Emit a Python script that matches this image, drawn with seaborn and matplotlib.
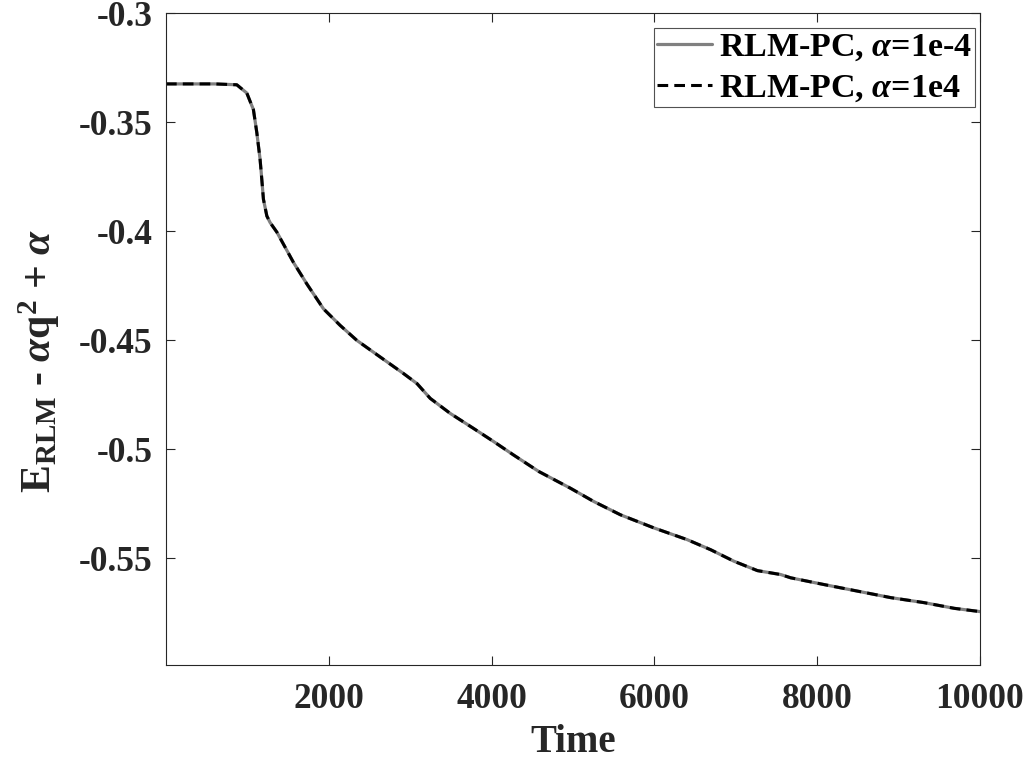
import numpy as np
import pandas as pd
import matplotlib
matplotlib.use("Agg")
import matplotlib.pyplot as plt
import seaborn as sns

# values
time = [0, 300, 600, 870, 993, 1074, 1116, 1156, 1177, 1197, 1239, 1279, 1362,
        1566, 1731, 1935, 2140, 2346, 2632, 2919, 3084, 3247, 3493, 3780, 4026,
        4272, 4579, 4969, 5256, 5584, 5994, 6404, 6691, 6978, 7266, 7552, 7675,
        8085, 8495, 8905, 9315, 9684, 10000]
energy_small = [-0.3324, -0.3324, -0.3324, -0.3328, -0.3366, -0.3442, -0.3548,
                -0.3670, -0.3762, -0.3853, -0.3930, -0.3960, -0.4004, -0.4143,
                -0.4242, -0.4356, -0.4432, -0.4501, -0.4577, -0.4653, -0.4699,
                -0.4767, -0.4836, -0.4905, -0.4965, -0.5027, -0.5102, -0.5179,
                -0.5240, -0.5301, -0.5361, -0.5415, -0.5461, -0.5514, -0.5557,
                -0.5575, -0.5590, -0.5621, -0.5651, -0.5681, -0.5704, -0.5730,
                -0.5745]
# alpha=1e4 run coincides with alpha=1e-4 run
energy_large = list(energy_small)

labels = [r"RLM-PC, $\alpha$=1e-4", r"RLM-PC, $\alpha$=1e4"]
x_ticks = [2000, 4000, 6000, 8000, 10000]
y_ticks = [-0.55, -0.5, -0.45, -0.4, -0.35, -0.3]
y_tick_labels = ["-0.55", "-0.5", "-0.45", "-0.4", "-0.35", "-0.3"]

sns.set_style("ticks")
plt.rcParams["font.family"] = ["Liberation Serif", "DejaVu Serif"]
plt.rcParams["font.weight"] = "bold"
plt.rcParams["axes.labelweight"] = "bold"
plt.rcParams["mathtext.fontset"] = "custom"
plt.rcParams["mathtext.rm"] = "Liberation Serif:bold"
plt.rcParams["mathtext.bf"] = "Liberation Serif:bold"
plt.rcParams["mathtext.it"] = "Liberation Serif:italic"

ink = "#262626"

df = pd.DataFrame({"time": time, "small": energy_small, "large": energy_large})

fig = plt.figure(figsize=(10.24, 7.6), dpi=100)
ax = fig.add_axes([0.1621, 0.125, 0.7949, 0.8575])

sns.lineplot(data=df, x="time", y="small", ax=ax, color="#808080",
             linewidth=2.3, label=labels[0])
sns.lineplot(data=df, x="time", y="large", ax=ax, color="black",
             linewidth=2.2, linestyle=(0, (3.5, 2.0)), label=labels[1])

ax.set_xlim(0, 10000)
ax.set_ylim(-0.599, -0.3)
ax.set_xticks(x_ticks)
ax.set_xticklabels([str(t) for t in x_ticks])
ax.set_yticks(y_ticks)
ax.set_yticklabels(y_tick_labels)

ax.tick_params(direction="in", length=6.5, width=0.8, colors=ink,
               labelsize=25.5, top=True, right=True)
ax.tick_params(axis="x", pad=13)
ax.tick_params(axis="y", pad=9.5)
for lab in ax.get_xticklabels() + ax.get_yticklabels():
    lab.set_fontweight("bold")
for side in ax.spines.values():
    side.set_color(ink)
    side.set_linewidth(0.8)

ax.set_xlabel("Time", fontsize=28, color=ink, labelpad=6)
ax.set_ylabel(r"E$_\mathrm{RLM}$ - $\alpha$q$^\mathrm{2}$ + $\alpha$",
              fontsize=30, color=ink)
ax.yaxis.set_label_coords(-0.128, 0.466)

leg = ax.legend(loc="upper right", bbox_to_anchor=(0.994, 0.977),
                borderaxespad=0, fontsize=24.5, frameon=True, fancybox=False,
                handlelength=1.6, handletextpad=0.2, borderpad=0.1,
                labelspacing=0.28)
leg.get_frame().set_edgecolor(ink)
leg.get_frame().set_linewidth(0.8)
for t in leg.get_texts():
    t.set_color("black")
    t.set_fontweight("bold")

fig.savefig("out.png", dpi=100)
